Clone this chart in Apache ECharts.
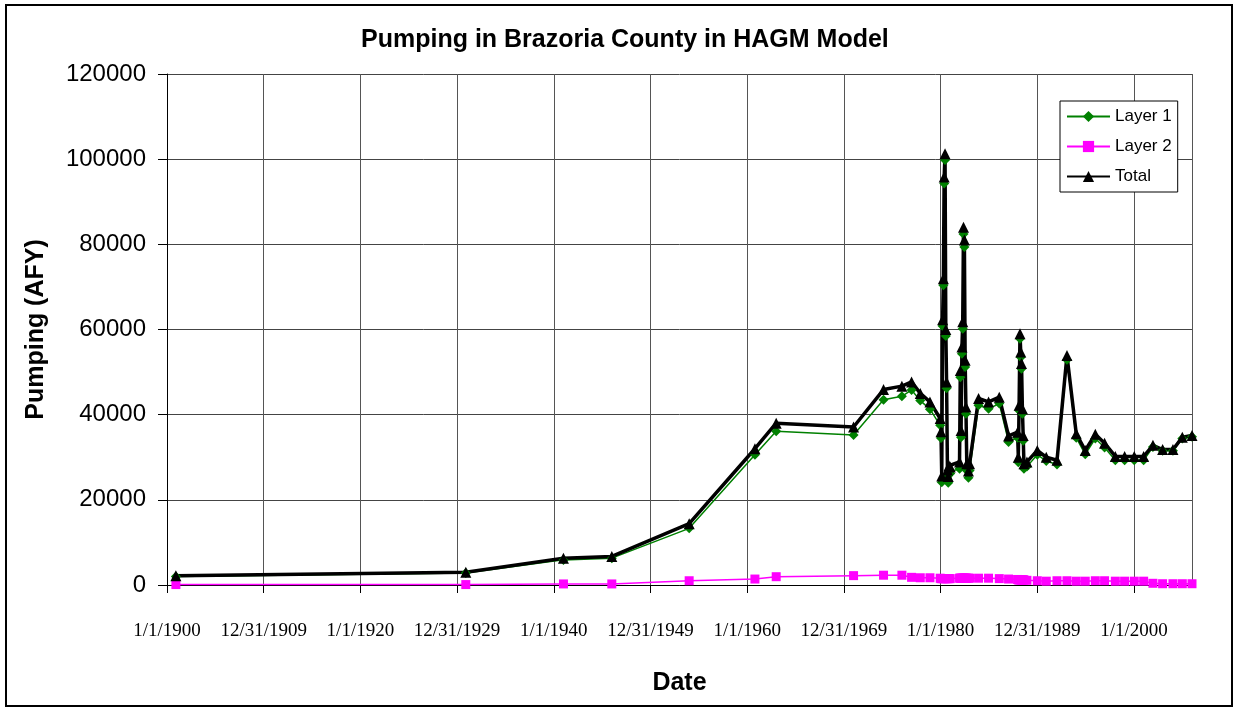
<!DOCTYPE html>
<html>
<head>
<meta charset="utf-8">
<script src="https://cdn.jsdelivr.net/npm/echarts@6/dist/echarts.min.js"></script>
<style>
html,body{margin:0;padding:0;background:#fff;}
#chart{width:1236px;height:710px;}
</style>
</head>
<body>
<div id="chart"></div>
<script>
// Dates as decimal years
const dates = [
  1900.92, 1930.9, 1941.0, 1946.0, 1954.0, 1960.8, 1963.0, 1971.0, 1974.1, 1976.0,
  1977.0, 1977.9, 1978.9, 1979.96,
  1980.04, 1980.12, 1980.21, 1980.29, 1980.37, 1980.46, 1980.54, 1980.62, 1980.71, 1980.79, 1980.87,
  1981.0,
  1981.96, 1982.04, 1982.12, 1982.21, 1982.29, 1982.37, 1982.46, 1982.54, 1982.62, 1982.71, 1982.88,
  1983.0, 1983.93, 1984.96, 1986.07, 1987.03, 1987.96,
  1988.04, 1988.12, 1988.21, 1988.29, 1988.37, 1988.46, 1988.54, 1988.62,
  1988.93, 1990.0, 1990.93, 1992.04, 1993.07, 1994.03, 1994.96, 1996.0, 1996.96, 1998.07,
  1999.03, 2000.03, 2001.0, 2001.96, 2002.96, 2004.03, 2005.0, 2006.0
];
const layer1 = [
  2000, 2800, 5900, 6300, 13300, 30600, 36100, 35200, 43500, 44300,
  45800, 43300, 41300, 37500,
  34500, 24100, 60800, 70400, 94300, 99800, 58500, 46200, 25500, 24000, 26500,
  26200,
  27300, 48800, 34700, 54300, 60200, 82400, 79400, 51200, 40200, 26900, 25200,
  26900, 42200, 41400, 42600, 33600, 34600,
  28800, 41000, 57800, 53500, 50800, 40200, 33900, 27300,
  27800, 30600, 29100, 28300, 52900, 34600, 30700, 34400, 32300, 29300,
  29300, 29300, 29300, 32400, 31500, 31500, 34400, 34800
];
const layer2 = [
  100, 100, 250, 250, 1000, 1400, 1950, 2200, 2300, 2300,
  1800, 1700, 1700, 1600,
  1500, 1500, 1500, 1500, 1500, 1500, 1500, 1500, 1500, 1500, 1500,
  1500,
  1600, 1600, 1600, 1600, 1600, 1600, 1600, 1600, 1600, 1600, 1600,
  1600, 1600, 1600, 1500, 1400, 1300,
  1200, 1200, 1200, 1200, 1200, 1200, 1200, 1200,
  1100, 1000, 900, 1000, 1000, 900, 900, 1000, 1000, 900,
  900, 900, 900, 400, 300, 300, 300, 300
];
const total = [
  2200, 3000, 6300, 6700, 14400, 32000, 38000, 37100, 45900, 46700,
  47700, 45000, 43000, 39100,
  36000, 25600, 62300, 71900, 95800, 101300, 60000, 47700, 27000, 25500, 28000,
  27700,
  28900, 50400, 36300, 55900, 61800, 84000, 81000, 52800, 41800, 28500, 26800,
  28500, 43800, 43000, 44100, 35000, 35900,
  30000, 42200, 59000, 54700, 52000, 41400, 35100, 28500,
  28900, 31600, 30000, 29300, 53900, 35500, 31600, 35400, 33300, 30200,
  30200, 30200, 30200, 32800, 31800, 31800, 34700, 35100
];
const xTickLabels = ['1/1/1900','12/31/1909','1/1/1920','12/31/1929','1/1/1940','12/31/1949',
  '1/1/1960','12/31/1969','1/1/1980','12/31/1989','1/1/2000'];
const seriesNames = ['Layer 1','Layer 2','Total'];

const pair = (arr) => dates.map((d, i) => [d, arr[i]]);

const chart = echarts.init(document.getElementById('chart'), null, {renderer: 'canvas'});
const sans = 'Liberation Sans, Arial, sans-serif';
const serif = 'Liberation Serif, Times New Roman, serif';
chart.setOption({
  animation: false,
  backgroundColor: '#fff',
  title: {
    text: 'Pumping in Brazoria County in HAGM Model',
    left: 361, top: 28, padding: 0,
    textStyle: {fontFamily: sans, fontWeight: 'bold', fontSize: 25, color: '#000'}
  },
  graphic: [{
    type: 'rect', z: 100,
    shape: {x: 6, y: 5, width: 1226, height: 701},
    style: {fill: null, stroke: '#000', lineWidth: 2}
  }],
  legend: {
    orient: 'vertical',
    left: 1060, top: 101,
    padding: [7, 6, 7, 6],
    itemGap: 13, itemWidth: 43, itemHeight: 14,
    backgroundColor: '#fff', borderColor: '#000', borderWidth: 1,
    textStyle: {fontFamily: sans, fontSize: 17, color: '#000'},
    data: seriesNames
  },
  grid: {left: 167, right: 44, top: 74, bottom: 125, containLabel: false},
  xAxis: {
    type: 'value', min: 1900, max: 2006, interval: 10,
    name: 'Date', nameLocation: 'middle', nameGap: 86,
    nameTextStyle: {fontFamily: sans, fontWeight: 'bold', fontSize: 25, color: '#000'},
    axisLine: {show: true, lineStyle: {color: '#000', width: 1}},
    axisTick: {show: true, length: 8, lineStyle: {color: '#000'}},
    axisLabel: {
      margin: 37, fontFamily: serif, fontSize: 19, color: '#000',
      showMaxLabel: false,
      formatter: function (v) {
        const k = (v - 1900) / 10;
        return Math.abs(k - Math.round(k)) < 1e-6 ? (xTickLabels[Math.round(k)] || '') : '';
      }
    },
    splitLine: {show: true, lineStyle: {color: '#555', width: 1}}
  },
  yAxis: {
    type: 'value', min: 0, max: 120000, interval: 20000,
    name: 'Pumping (AFY)', nameLocation: 'middle', nameGap: 118,
    nameTextStyle: {fontFamily: sans, fontWeight: 'bold', fontSize: 25, color: '#000'},
    axisLine: {show: true, lineStyle: {color: '#000', width: 1}},
    axisTick: {show: true, length: 9, lineStyle: {color: '#000'}},
    axisLabel: {margin: 21, fontFamily: sans, fontSize: 24, color: '#000',
      formatter: function (v) { return String(v); }},
    splitLine: {show: true, lineStyle: {color: '#444', width: 1}}
  },
  series: [
    {
      name: seriesNames[0], type: 'line', data: pair(layer1),
      symbol: 'diamond', symbolSize: 10,
      itemStyle: {color: '#008000'},
      lineStyle: {color: '#008000', width: 1.5}
    },
    {
      name: seriesNames[1], type: 'line', data: pair(layer2),
      symbol: 'rect', symbolSize: 9,
      itemStyle: {color: '#ff00ff'},
      lineStyle: {color: '#ff00ff', width: 1.5}
    },
    {
      name: seriesNames[2], type: 'line', data: pair(total),
      symbol: 'triangle', symbolSize: 11,
      itemStyle: {color: '#000'},
      lineStyle: {color: '#000', width: 3.5}
    }
  ]
});
</script>
</body>
</html>
